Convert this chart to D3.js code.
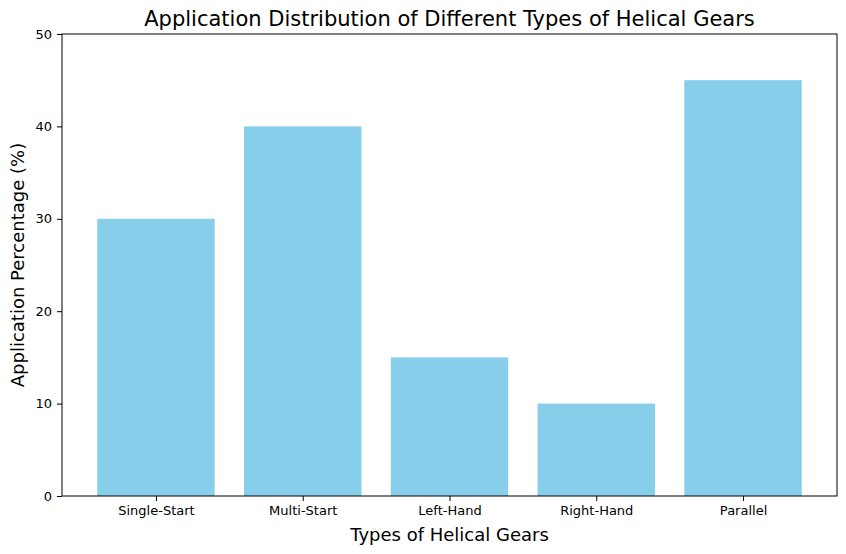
<!DOCTYPE html>
<html><head><meta charset="utf-8">
<script src="https://cdn.jsdelivr.net/npm/d3@7"></script>
<style>body{margin:0;background:#fff}svg{font-family:"DejaVu Sans",sans-serif}</style>
</head><body><svg id="c" width="846" height="554"></svg>
<script>
const categories = ["Single-Start","Multi-Start","Left-Hand","Right-Hand","Parallel"];
const values = [30,40,15,10,45];
const yTicks = [0,10,20,30,40,50];

const svg = d3.select("#c");
const L=62,R=837,T=34,B=496;
const x = d3.scaleLinear().domain([-0.64, categories.length-1+0.64]).range([L,R]);
const y = d3.scaleLinear().domain([0,50]).range([B,T]);

svg.selectAll("rect.bar").data(values).join("rect").attr("class","bar")
  .attr("x",(d,i)=>x(i-0.4)).attr("width",x(0.8)-x(0))
  .attr("y",d=>y(d)).attr("height",d=>y(0)-y(d)).attr("fill","#87ceeb");

const xa = svg.append("g").attr("transform",`translate(0,${B})`)
  .call(d3.axisBottom(x).tickValues(d3.range(categories.length)).tickFormat(i=>categories[i]).tickSizeOuter(0).tickSize(5).tickPadding(5));
const ya = svg.append("g").attr("transform",`translate(${L},0)`)
  .call(d3.axisLeft(y).tickValues(yTicks).tickSizeOuter(0).tickSize(5).tickPadding(5));
[xa,ya].forEach(a=>{a.selectAll("text").attr("font-size","13px").attr("fill","#000").attr("font-family","DejaVu Sans");a.select(".domain").remove();a.selectAll("line").attr("stroke","#000");});

svg.append("rect").attr("x",L).attr("y",T).attr("width",R-L).attr("height",B-T)
  .attr("fill","none").attr("stroke","#000").attr("stroke-width",1);

svg.append("text").attr("x",(L+R)/2).attr("y",26).attr("text-anchor","middle").attr("font-size","21px").text("Application Distribution of Different Types of Helical Gears");
svg.append("text").attr("x",(L+R)/2).attr("y",541).attr("text-anchor","middle").attr("font-size","18px").text("Types of Helical Gears");
svg.append("text").attr("transform",`translate(24,${(T+B)/2}) rotate(-90)`).attr("text-anchor","middle").attr("font-size","18px").text("Application Percentage (%)");
</script></body></html>
